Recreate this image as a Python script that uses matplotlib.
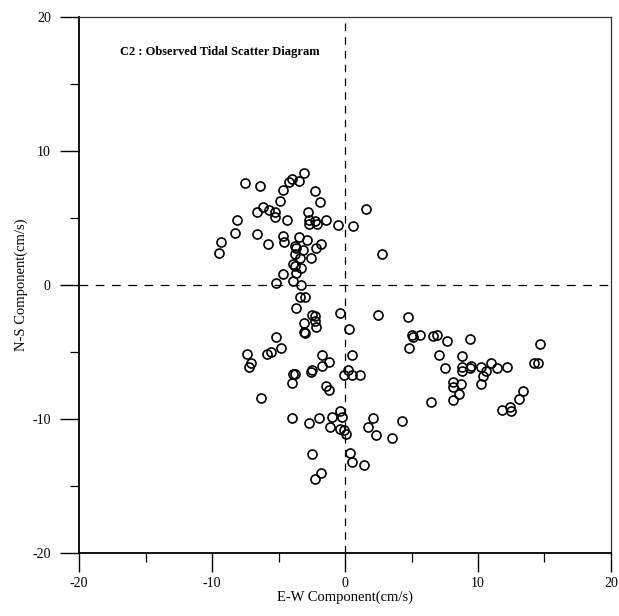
import numpy as np
import matplotlib.pyplot as plt
from matplotlib.ticker import MultipleLocator

# Observed tidal current components at station C2 (cm/s)
ew = np.array([
    # upper-left cluster
    -7.5, -6.4, -3.1, -3.5, -4.0, -4.2, -4.7, -2.3, -4.9, -1.9,
    -6.2, -6.6, -5.7, -5.3, -5.3, -4.4, -8.1, -2.8, -2.7, -2.7,
    -2.3, -2.1, -1.4, -0.5, 0.6, -8.3, -6.6, -9.3, -9.5, -5.8,
    -4.7, -4.6, -3.5, -2.9, -3.8, -3.7, -3.2, -2.2, -1.8, -3.8,
    -3.4, -2.6, -3.9, -3.8, -3.3, -3.7, -4.7, -5.2, -3.9, -3.3,
    1.6, 2.8,
    # lower-left cluster
    -3.4, -3.0, -3.7, -0.4, -2.5, -2.3, -3.1, -2.3, -2.2, 0.3,
    -3.1, -3.0, -5.2, -7.4, -5.9, -5.6, -4.8, -1.7, -1.2, -1.7,
    0.5, -7.1, -7.2, 0.2, -0.1, 0.5, -3.9, -3.8, -2.5, -2.6,
    -4.0, -1.4, -1.2, -6.3, -4.0, -2.7, -2.0, -1.0, -0.4, -0.2,
    -1.1, -0.4, -0.1, 0.1, -2.5, 0.4, 0.5, -1.8, -2.3, 1.1,
    # lower-right cluster
    2.5, 4.7, 5.0, 5.1, 5.6, 4.8, 6.6, 6.9, 7.7, 9.4,
    14.7, 7.1, 8.8, 7.5, 8.8, 8.8, 9.5, 9.4, 10.2, 10.6,
    11.0, 11.4, 12.2, 10.4, 10.2, 14.2, 14.5, 8.1, 8.1, 8.7,
    8.6, 8.1, 6.5, 13.4, 13.1, 12.4, 12.5, 11.8, 2.1, 4.3,
    1.7, 2.3, 3.5, 1.4,
])
ns = np.array([
    7.6, 7.4, 8.4, 7.8, 7.9, 7.7, 7.1, 7.0, 6.3, 6.2,
    5.8, 5.5, 5.6, 5.5, 5.1, 4.9, 4.9, 5.5, 4.9, 4.6,
    4.8, 4.6, 4.9, 4.5, 4.4, 3.9, 3.8, 3.2, 2.4, 3.1,
    3.7, 3.2, 3.6, 3.4, 2.9, 2.8, 2.6, 2.8, 3.1, 2.3,
    2.0, 2.0, 1.6, 1.4, 1.3, 0.9, 0.8, 0.2, 0.3, 0.0,
    5.7, 2.3,
    -0.9, -0.9, -1.7, -2.1, -2.2, -2.3, -2.8, -2.7, -3.1, -3.3,
    -3.5, -3.6, -3.9, -5.1, -5.1, -5.0, -4.7, -5.2, -5.7, -6.0,
    -5.2, -5.8, -6.1, -6.3, -6.7, -6.7, -6.6, -6.6, -6.3, -6.5,
    -7.3, -7.5, -7.8, -8.4, -9.9, -10.3, -9.9, -9.8, -9.4, -9.8,
    -10.6, -10.7, -10.8, -11.1, -12.6, -12.5, -13.2, -14.0, -14.5, -6.7,
    -2.2, -2.4, -3.7, -3.9, -3.7, -4.7, -3.8, -3.7, -4.2, -4.0,
    -4.4, -5.2, -5.3, -6.2, -6.1, -6.4, -6.0, -6.2, -6.1, -6.4,
    -5.8, -6.2, -6.1, -6.8, -7.4, -5.8, -5.8, -7.2, -7.6, -7.4,
    -8.1, -8.6, -8.7, -7.9, -8.5, -9.1, -9.4, -9.3, -9.9, -10.1,
    -10.6, -11.2, -11.4, -13.4,
])

plt.rcParams['font.family'] = ['Liberation Serif', 'DejaVu Serif']
plt.rcParams['axes.unicode_minus'] = False

fig = plt.figure(figsize=(6.19, 6.16), dpi=100)
ax = fig.add_axes([0.128, 0.102, 0.859, 0.870])

ax.plot(ew, ns, linestyle='none', marker='o', markersize=6.5,
        markerfacecolor='none', markeredgecolor='black', markeredgewidth=1.2)

ax.axhline(0, color='black', linestyle=(0, (7, 6)), linewidth=0.9, zorder=1)
ax.axvline(0, color='black', linestyle=(0, (6, 5)), linewidth=0.9, zorder=1)

ax.set_xlim(-20, 20)
ax.set_ylim(-20, 20)
ax.xaxis.set_major_locator(MultipleLocator(10))
ax.xaxis.set_minor_locator(MultipleLocator(5))
ax.yaxis.set_major_locator(MultipleLocator(10))
ax.yaxis.set_minor_locator(MultipleLocator(5))
ax.tick_params(which='major', direction='out', length=13.5, width=1.0,
               labelsize=10, top=False, right=False)
ax.tick_params(which='minor', direction='out', length=6.5, width=0.9,
               top=False, right=False)
ax.tick_params(axis='x', which='major', pad=4)
ax.tick_params(axis='y', which='major', pad=7)

for side in ['left', 'bottom']:
    ax.spines[side].set_linewidth(1.3)
for side in ['top', 'right']:
    ax.spines[side].set_linewidth(0.9)
    ax.spines[side].set_color('#333333')

ax.text(-16.9, 17.4, 'C2 : Observed Tidal Scatter Diagram', fontsize=9,
        fontweight='bold', va='center', ha='left')

ax.set_xlabel('E-W Component(cm/s)', fontsize=10.5, labelpad=0)
ax.set_ylabel('N-S Component(cm/s)', fontsize=10.5, labelpad=3)

fig.savefig('out.png', dpi=100)
